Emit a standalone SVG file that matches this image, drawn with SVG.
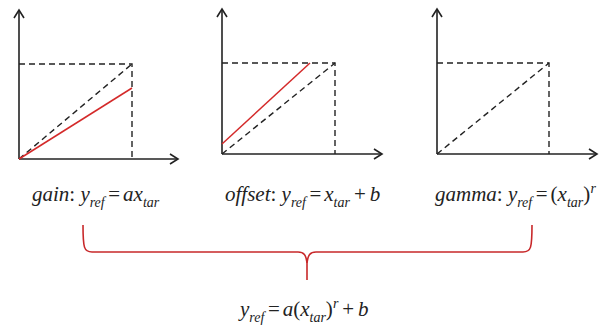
<svg xmlns="http://www.w3.org/2000/svg" width="609" height="329" viewBox="0 0 609 329">
<style>
.ax{stroke:#222;stroke-width:1.6;fill:none}
.ah{stroke:#222;stroke-width:1.6;fill:none;stroke-linejoin:miter}
.ds{stroke:#222;stroke-width:1.4;fill:none;stroke-dasharray:6,4}
.rd{stroke:#d42a2a;stroke-width:1.5;fill:none}
.br{stroke:#c8282a;stroke-width:1.6;fill:none}
</style>
<rect width="609" height="329" fill="#fff"/>
<g id="gain">
<line class="ax" x1="19" y1="159" x2="19" y2="10"/>
<polyline class="ah" points="14,18 19,10 24,18"/>
<line class="ax" x1="19" y1="159" x2="178" y2="159"/>
<polyline class="ah" points="170,154 178,159 170,164"/>
<polyline class="ds" points="19,64 132,64 132,159"/>
<line class="ds" x1="19" y1="159" x2="132" y2="64"/>
<line class="rd" x1="19" y1="159" x2="132" y2="88"/>
<text x="32" y="201" font-family="Liberation Serif" font-style="italic" font-size="21" fill="#222">gain</text>
<text x="69.3" y="201" font-family="Liberation Serif" font-size="21" fill="#222">:</text>
<text x="80.4" y="201" font-family="Liberation Serif" font-style="italic" font-size="21" fill="#222">y</text>
<text x="89.7" y="207" font-family="Liberation Serif" font-style="italic" font-size="14" fill="#222">ref</text>
<text x="108.3" y="201" font-family="Liberation Serif" font-size="21" fill="#222">=</text>
<text x="123.1" y="201" font-family="Liberation Serif" font-style="italic" font-size="21" fill="#222">ax</text>
<text x="142.9" y="207" font-family="Liberation Serif" font-style="italic" font-size="14" fill="#222">tar</text>
</g>
<g id="offset">
<line class="ax" x1="222" y1="154" x2="222" y2="9"/>
<polyline class="ah" points="217,17 222,9 227,17"/>
<line class="ax" x1="222" y1="154" x2="382" y2="154"/>
<polyline class="ah" points="374,149 382,154 374,159"/>
<polyline class="ds" points="222,63 335,63 335,154"/>
<line class="ds" x1="222" y1="154" x2="335" y2="63"/>
<line class="rd" x1="222" y1="144" x2="310" y2="63"/>
<text x="225" y="201" font-family="Liberation Serif" font-style="italic" font-size="21" fill="#222">offset</text>
<text x="270.5" y="201" font-family="Liberation Serif" font-size="21" fill="#222">:</text>
<text x="281.6" y="201" font-family="Liberation Serif" font-style="italic" font-size="21" fill="#222">y</text>
<text x="290.9" y="207" font-family="Liberation Serif" font-style="italic" font-size="14" fill="#222">ref</text>
<text x="309.5" y="201" font-family="Liberation Serif" font-size="21" fill="#222">=</text>
<text x="324.3" y="201" font-family="Liberation Serif" font-style="italic" font-size="21" fill="#222">x</text>
<text x="333.6" y="207" font-family="Liberation Serif" font-style="italic" font-size="14" fill="#222">tar</text>
<text x="353.9" y="201" font-family="Liberation Serif" font-size="21" fill="#222">+</text>
<text x="369.7" y="201" font-family="Liberation Serif" font-style="italic" font-size="21" fill="#222">b</text>
</g>
<g id="gamma">
<line class="ax" x1="437" y1="154" x2="437" y2="9"/>
<polyline class="ah" points="432,17 437,9 442,17"/>
<line class="ax" x1="437" y1="154" x2="597" y2="154"/>
<polyline class="ah" points="589,149 597,154 589,159"/>
<polyline class="ds" points="437,63 549,63 549,154"/>
<line class="ds" x1="437" y1="154" x2="549" y2="63"/>
<text x="435" y="201" font-family="Liberation Serif" font-style="italic" font-size="21" fill="#222">gamma</text>
<text x="496.8" y="201" font-family="Liberation Serif" font-size="21" fill="#222">:</text>
<text x="507.9" y="201" font-family="Liberation Serif" font-style="italic" font-size="21" fill="#222">y</text>
<text x="517.2" y="207" font-family="Liberation Serif" font-style="italic" font-size="14" fill="#222">ref</text>
<text x="535.8" y="201" font-family="Liberation Serif" font-size="21" fill="#222">=</text>
<text x="550.6" y="201" font-family="Liberation Serif" font-size="21" fill="#222">(</text>
<text x="557.6" y="201" font-family="Liberation Serif" font-style="italic" font-size="21" fill="#222">x</text>
<text x="566.9" y="207" font-family="Liberation Serif" font-style="italic" font-size="14" fill="#222">tar</text>
<text x="583.2" y="201" font-family="Liberation Serif" font-size="21" fill="#222">)</text>
<text x="590.5" y="193" font-family="Liberation Serif" font-style="italic" font-size="14" fill="#222">r</text>
</g>
<g id="connectors">
<path class="br" d="M83,225 C83,248 84,252 92,252 L298,252 C304,252 306,255 307,263 L307,280"/>
<path class="br" d="M532,225 C532,248 531,252 523,252 L316,252 C310,252 308,255 307,263"/>
</g>
<g id="combined">
<text x="240" y="316" font-family="Liberation Serif" font-style="italic" font-size="21" fill="#222">y</text>
<text x="249.3" y="322" font-family="Liberation Serif" font-style="italic" font-size="14" fill="#222">ref</text>
<text x="267.9" y="316" font-family="Liberation Serif" font-size="21" fill="#222">=</text>
<text x="282.7" y="316" font-family="Liberation Serif" font-style="italic" font-size="21" fill="#222">a</text>
<text x="293.2" y="316" font-family="Liberation Serif" font-size="21" fill="#222">(</text>
<text x="300.2" y="316" font-family="Liberation Serif" font-style="italic" font-size="21" fill="#222">x</text>
<text x="309.5" y="322" font-family="Liberation Serif" font-style="italic" font-size="14" fill="#222">tar</text>
<text x="325.8" y="316" font-family="Liberation Serif" font-size="21" fill="#222">)</text>
<text x="333" y="308" font-family="Liberation Serif" font-style="italic" font-size="14" fill="#222">r</text>
<text x="342.2" y="316" font-family="Liberation Serif" font-size="21" fill="#222">+</text>
<text x="358" y="316" font-family="Liberation Serif" font-style="italic" font-size="21" fill="#222">b</text>
</g>
</svg>
